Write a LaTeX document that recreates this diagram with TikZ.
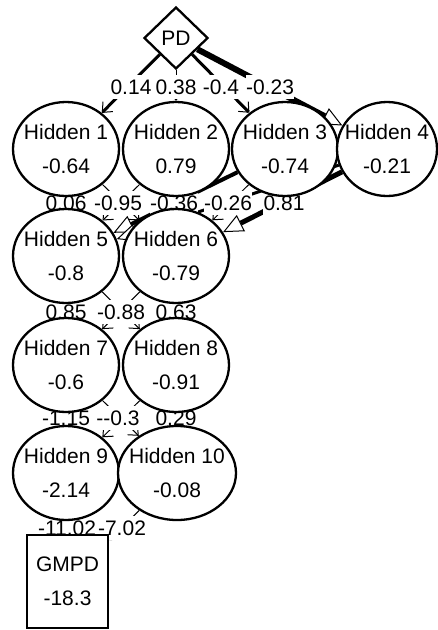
\documentclass[tikz,border=0pt]{standalone}
\usepackage{fontspec}
\setmainfont{Liberation Sans}
\usepackage{tikz}
\usetikzlibrary{arrows.meta, shapes.geometric, positioning}
\pgfdeclarelayer{wires}
\pgfdeclarelayer{weights}
\pgfsetlayers{wires,weights,main}
\definecolor{inkblack}{HTML}{000000}
\definecolor{paperwhite}{HTML}{FFFFFF}

\begin{document}
\begin{tikzpicture}[x=1pt, y=-1pt,
    netfont/.style={font=\fontsize{21}{34}\selectfont},
    neuron/.style={ellipse, draw=inkblack, line width=2.3pt, fill=paperwhite, netfont, align=center,
        minimum width=106pt, minimum height=94pt, inner xsep=-14pt, inner ysep=-22pt},
    weight/.style={netfont, fill=paperwhite, inner xsep=0.5pt, inner ysep=5pt},
    link/.style={draw=inkblack, line width=#1, -{Straight Barb[length=8pt, width=14pt, line width=1pt]}},
    biglink/.style={draw=inkblack, line width=#1, -{Triangle[open, fill=paperwhite, length=20pt, width=18pt, line width=1pt]}}]

    % =================================================================
    % LAYER 0: THE PAGE
    % =================================================================
    \useasboundingbox (0,0) rectangle (438,630);

    % =================================================================
    % LAYER 1: INPUT, HIDDEN UNITS, OUTPUT
    % =================================================================
    \node[diamond, draw=inkblack, line width=2.3pt, fill=paperwhite, netfont,
        minimum width=64pt, minimum height=62pt, inner sep=-8pt] (pd) at (176,38) {PD};

    \node[neuron] (h1) at (66,149) {Hidden 1\\-0.64};
    \node[neuron] (h2) at (176,149) {Hidden 2\\0.79};
    \node[neuron] (h3) at (285,149) {Hidden 3\\-0.74};
    \node[neuron, minimum width=100pt] (h4) at (387,149) {Hidden 4\\-0.21};

    \node[neuron] (h5) at (66,256) {Hidden 5\\-0.8};
    \node[neuron] (h6) at (176,256) {Hidden 6\\-0.79};

    \node[neuron] (h7) at (66,365) {Hidden 7\\-0.6};
    \node[neuron] (h8) at (176,365) {Hidden 8\\-0.91};

    \node[neuron] (h9) at (66,473) {Hidden 9\\-2.14};
    \node[neuron, minimum width=118pt] (h10) at (177,473) {Hidden 10\\-0.08};

    \node[rectangle, draw=inkblack, line width=2.5pt, fill=paperwhite, netfont, align=center,
        minimum width=81pt, minimum height=93pt, inner sep=0pt] (gmpd) at (67.5,581.5) {GMPD\\-18.3};

    % =================================================================
    % LAYER 2: THE WEIGHTED CONNECTIONS
    % =================================================================
    \begin{pgfonlayer}{wires}
        \draw[link=3pt] (pd) -- (h1);
        \draw[link=1pt] (pd) -- (h2);
        \draw[link=3pt] (pd) -- (h3);
        \draw[biglink=6pt] (pd) -- (h4);

        \draw[link=1pt] (h1) -- (h5);
        \draw[link=1pt] (h1) -- (h6);
        \draw[link=1pt] (h2) -- (h5);
        \draw[link=1pt] (h2) -- (h6);
        \draw[biglink=4pt] (h3) -- (h5);
        \draw[link=1pt] (h3) -- (h6);
        \draw[biglink=3pt] (h4) -- (h5);
        \draw[biglink=5pt] (h4) -- (h6);

        \draw[link=1pt] (h5) -- (h7);
        \draw[link=1pt] (h5) -- (h8);
        \draw[link=1pt] (h6) -- (h7);
        \draw[link=1pt] (h6) -- (h8);

        \draw[link=1pt] (h7) -- (h9);
        \draw[link=1pt] (h7) -- (h10);
        \draw[link=1pt] (h8) -- (h9);
        \draw[link=1pt] (h8) -- (h10);

        \draw[link=1pt] (h9) -- (gmpd);
        \draw[link=1pt] (h10) -- (gmpd);
    \end{pgfonlayer}

    % =================================================================
    % LAYER 3: THE WEIGHT LABELS
    % =================================================================
    \begin{pgfonlayer}{weights}
        \node[weight] (w1) at (131,87) {0.14};
        \node[weight] (w2) at (176,87) {0.38};
        \node[weight] (w3) at (221,87) {-0.4};
        \node[weight] (w4) at (270,87) {-0.23};

        \node[weight] (w5) at (66,203) {0.06};
        \node[weight] (w6) at (118,203) {-0.95};
        \node[weight] (w7) at (174,203) {-0.36};
        \node[weight] (w8) at (228,203) {-0.26};
        \node[weight] (w9) at (284,203) {0.81};

        \node[weight] (w10) at (66,312) {0.85};
        \node[weight] (w11) at (121,312) {-0.88};
        \node[weight] (w12) at (176,312) {0.63};

        \node[weight] (w13) at (66,418) {-1.15};
        \node[weight] (w14) at (118,418) {-{}-0.3};
        \node[weight] (w15) at (176,418) {0.29};

        \node[weight] (w16) at (67,528) {-11.02};
        \node[weight] (w17) at (122,528) {-7.02};
    \end{pgfonlayer}
\end{tikzpicture}
\end{document}
